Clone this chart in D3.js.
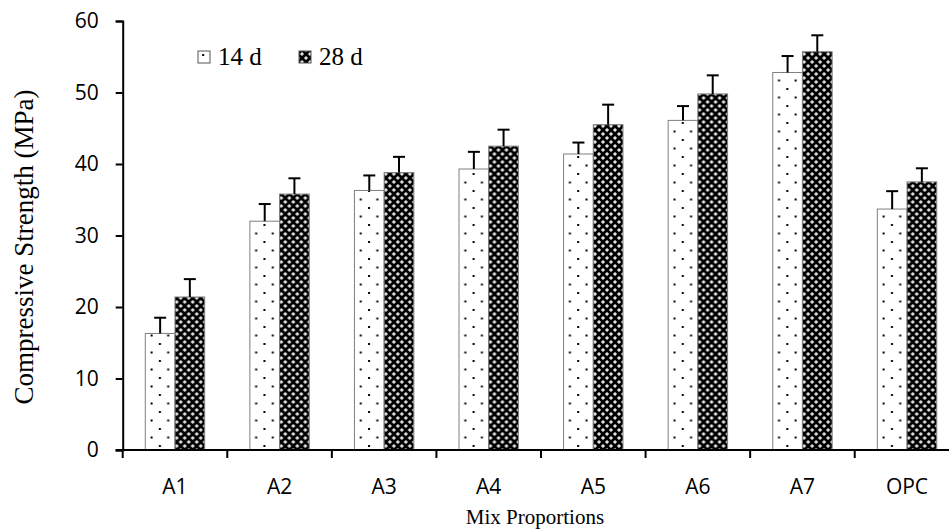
<!DOCTYPE html>
<html>
<head>
<meta charset="utf-8">
<script src="https://cdn.jsdelivr.net/npm/d3@7"></script>
<style>
  html, body { margin: 0; padding: 0; background: #fff; }
  svg { display: block; }
</style>
</head>
<body>
<svg id="chart" width="949" height="532"></svg>
<script>
const categories = ["A1", "A2", "A3", "A4", "A5", "A6", "A7", "OPC"];
const seriesNames = ["14 d", "28 d"];
const values14 = [16.3, 32.0, 36.3, 39.3, 41.4, 46.1, 52.8, 33.7];
const values28 = [21.4, 35.8, 38.8, 42.5, 45.5, 49.8, 55.7, 37.5];
const err14 = [2.2, 2.4, 2.1, 2.4, 1.6, 2.0, 2.3, 2.5];
const err28 = [2.5, 2.2, 2.2, 2.3, 2.8, 2.6, 2.3, 1.9];
const yTicks = [0, 10, 20, 30, 40, 50, 60];

const svg = d3.select("#chart");
const defs = svg.append("defs");

// dotted pattern (14 d)
const pDot = defs.append("pattern").attr("id", "dots")
  .attr("patternUnits", "userSpaceOnUse").attr("width", 16.6).attr("height", 17)
  .attr("x", 0).attr("y", 0);
pDot.append("rect").attr("width", 16.6).attr("height", 17).attr("fill", "#fff");
pDot.append("rect").attr("x", 3).attr("y", 3).attr("width", 2).attr("height", 2).attr("fill", "#000");
pDot.append("rect").attr("x", 11.3).attr("y", 11.5).attr("width", 2).attr("height", 2).attr("fill", "#000");

// sphere-like checker pattern (28 d)
const pSph = defs.append("pattern").attr("id", "sphere")
  .attr("patternUnits", "userSpaceOnUse").attr("width", 8).attr("height", 8);
pSph.append("rect").attr("width", 8).attr("height", 8).attr("fill", "#000");
pSph.append("path").attr("d", "M2,0 L4,2 L2,4 L0,2 Z M6,4 L8,6 L6,8 L4,6 Z").attr("fill", "#fff");
pSph.append("rect").attr("x", 1.5).attr("y", 1.5).attr("width", 1).attr("height", 1).attr("fill", "#888");
pSph.append("rect").attr("x", 5.5).attr("y", 5.5).attr("width", 1).attr("height", 1).attr("fill", "#888");

const plotLeft = 122.7, plotRight = 959.3, plotTop = 21, plotBottom = 450;

const x = d3.scaleBand().domain(categories).range([plotLeft, plotRight]).padding(0);
const xs = d3.scaleBand().domain(seriesNames)
  .range([x.bandwidth() * 0.216, x.bandwidth() * 0.784]).padding(0);
const y = d3.scaleLinear().domain([0, 60]).range([plotBottom, plotTop]);

const fills = { "14 d": "url(#dots)", "28 d": "url(#sphere)" };
const data = categories.map((c, i) => ({
  cat: c,
  items: [
    { s: "14 d", v: values14[i], e: err14[i] },
    { s: "28 d", v: values28[i], e: err28[i] }
  ]
}));

const g = svg.append("g");
const groups = g.selectAll("g.grp").data(data).enter().append("g")
  .attr("transform", d => `translate(${x(d.cat)},0)`);

groups.selectAll("rect").data(d => d.items).enter().append("rect")
  .attr("x", d => xs(d.s))
  .attr("y", d => y(d.v))
  .attr("width", xs.bandwidth())
  .attr("height", d => y(0) - y(d.v))
  .attr("fill", d => fills[d.s])
  .attr("stroke", "#7f7f7f")
  .attr("stroke-width", 1);

// error bars (upper only)
const eb = groups.selectAll("g.eb").data(d => d.items).enter().append("g");
eb.append("line")
  .attr("x1", d => xs(d.s) + xs.bandwidth() / 2)
  .attr("x2", d => xs(d.s) + xs.bandwidth() / 2)
  .attr("y1", d => y(d.v))
  .attr("y2", d => y(d.v + d.e))
  .attr("stroke", "#000").attr("stroke-width", 2);
eb.append("line")
  .attr("x1", d => xs(d.s) + xs.bandwidth() / 2 - 6)
  .attr("x2", d => xs(d.s) + xs.bandwidth() / 2 + 6)
  .attr("y1", d => y(d.v + d.e))
  .attr("y2", d => y(d.v + d.e))
  .attr("stroke", "#000").attr("stroke-width", 2);

// Y axis
const yAxis = g.append("g").attr("transform", `translate(${plotLeft},0)`)
  .call(d3.axisLeft(y).tickValues(yTicks).tickSize(7).tickPadding(17));
yAxis.select(".domain").attr("stroke", "#000").attr("stroke-width", 2);
yAxis.selectAll(".tick line").attr("stroke", "#000").attr("stroke-width", 2);
yAxis.selectAll(".tick text").attr("font-family", "'Open Sans', sans-serif")
  .attr("font-size", 21).attr("fill", "#000");

// X axis
const xAxisG = g.append("g").attr("transform", `translate(0,${plotBottom})`);
xAxisG.append("line").attr("x1", plotLeft - 7).attr("x2", plotRight)
  .attr("y1", 0).attr("y2", 0).attr("stroke", "#000").attr("stroke-width", 2);
const boundaries = categories.map(c => x(c));
xAxisG.selectAll("line.tk").data(boundaries).enter().append("line")
  .attr("x1", d => d).attr("x2", d => d).attr("y1", 0).attr("y2", 8)
  .attr("stroke", "#000").attr("stroke-width", 2);
xAxisG.selectAll("text").data(categories).enter().append("text")
  .attr("x", d => x(d) + x.bandwidth() / 2)
  .attr("y", 44)
  .attr("text-anchor", "middle")
  .attr("font-family", "'Open Sans', sans-serif")
  .attr("font-size", 21)
  .text(d => d);

// Axis titles
svg.append("text").attr("x", 535).attr("y", 524).attr("text-anchor", "middle")
  .attr("font-family", "'Liberation Serif', 'Times New Roman', serif").attr("font-size", 21)
  .text("Mix Proportions");
svg.append("text").attr("transform", "translate(33,247) rotate(-90)")
  .attr("text-anchor", "middle")
  .attr("font-family", "'Liberation Serif', 'Times New Roman', serif").attr("font-size", 27)
  .text("Compressive Strength (MPa)");

// Legend
const legend = svg.append("g");
const legItems = [{ s: "14 d", x: 198 }, { s: "28 d", x: 299 }];
legItems.forEach(it => {
  legend.append("rect").attr("x", it.x).attr("y", 51).attr("width", 12).attr("height", 12)
    .attr("fill", fills[it.s]).attr("stroke", "#555").attr("stroke-width", 1);
  legend.append("text").attr("x", it.x + 20).attr("y", 65)
    .attr("font-family", "'Liberation Serif', 'Times New Roman', serif").attr("font-size", 25)
    .text(it.s);
});
</script>
</body>
</html>
